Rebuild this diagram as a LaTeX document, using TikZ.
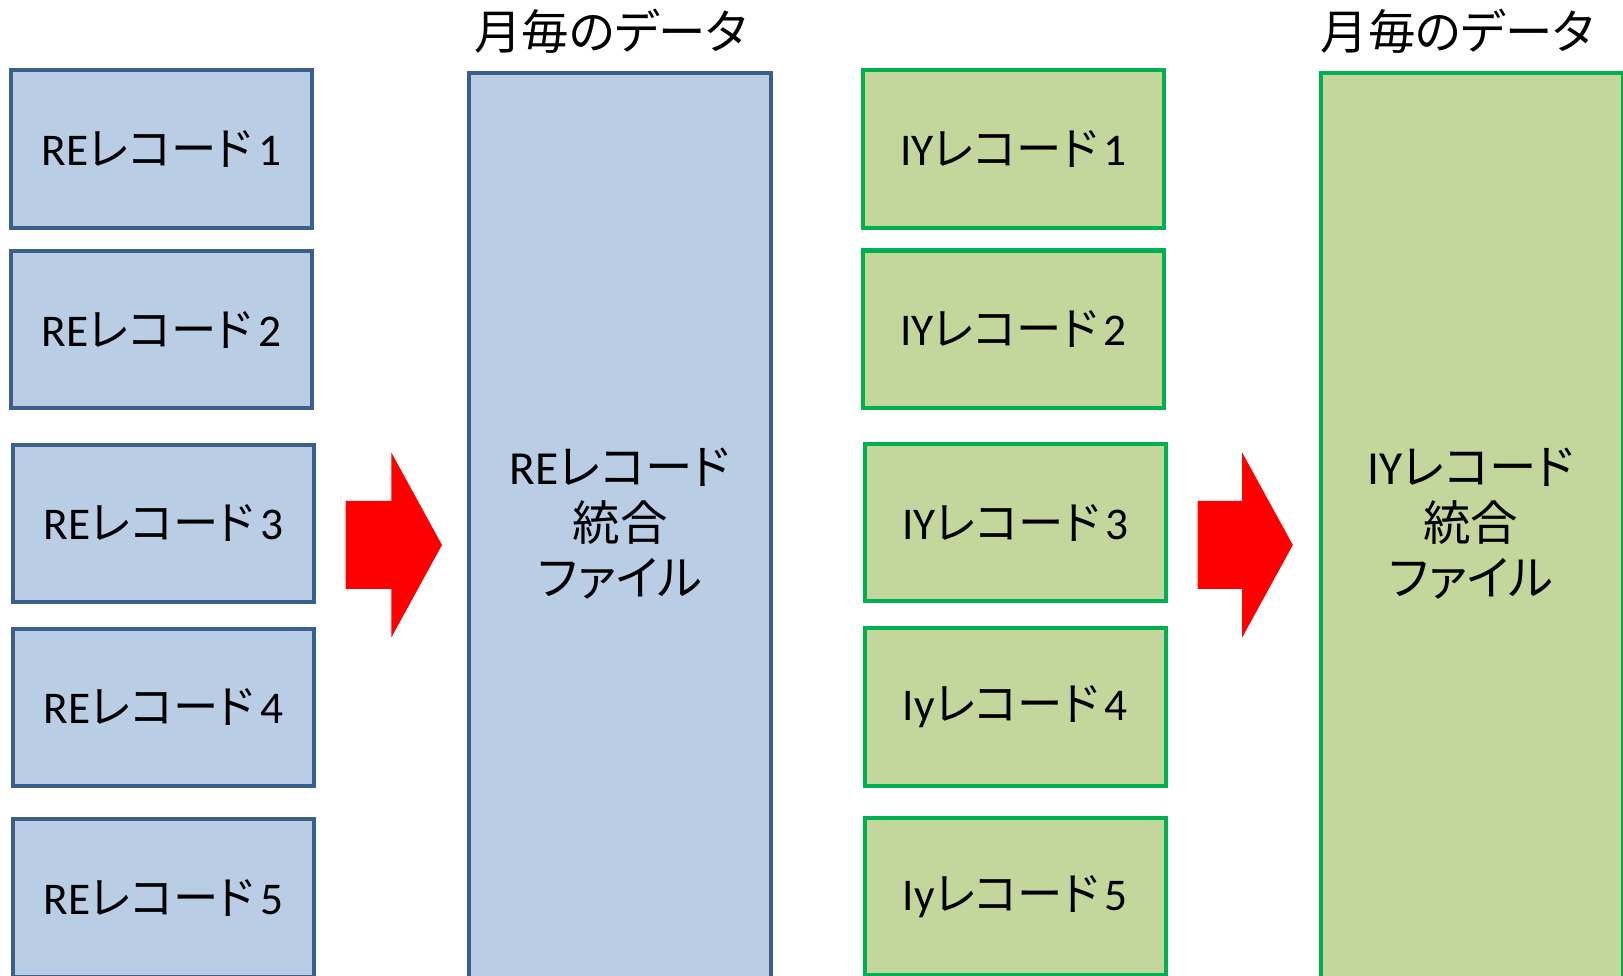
\documentclass[tikz,border=0pt]{standalone}
\usepackage{fontspec}
\setmainfont{Carlito}
\newfontfamily\jpfont[RawFeature=+palt]{Noto Sans CJK JP}
\newcommand\J[1]{{\jpfont #1}}
\newcommand\Rec{\J{レコード}\kern3bp}
\definecolor{reb}{HTML}{3A5F8B}
\definecolor{ref}{HTML}{B9CDE5}
\definecolor{iyb}{HTML}{00B050}
\definecolor{iyf}{HTML}{C3D69B}
\definecolor{arr}{HTML}{FF0000}
\begin{document}
\begin{tikzpicture}[x=0.5bp,y=-0.5bp,
  txt/.style={font=\fontsize{23}{27}\selectfont, text=black, inner sep=0pt, align=center},
  boxtxt/.style={font=\fontsize{22}{27}\selectfont, text=black, inner sep=0pt, align=center},
  rebox/.style={boxtxt, draw=reb, fill=ref, line width=2bp, minimum width=145.5bp, minimum height=76bp},
  iybox/.style={boxtxt, draw=iyb, fill=iyf, line width=2bp, minimum width=145.5bp, minimum height=76bp},
  bigre/.style={draw=reb, fill=ref, line width=2bp, minimum width=145.5bp, minimum height=470bp, inner sep=0pt},
  bigiy/.style={draw=iyb, fill=iyf, line width=2bp, minimum width=146bp, minimum height=470bp, inner sep=0pt},
  blockarrow/.style={fill=arr, draw=none}]
\useasboundingbox (0,0) rectangle (1568,942);
% left group
\node[rebox] (re1) at (156,144) {RE\Rec 1};
\node[rebox] (re2) at (156,318.5) {RE\Rec 2};
\node[rebox] (re3) at (158,505.5) {RE\Rec 3};
\node[rebox] (re4) at (158,683.5) {RE\Rec 4};
\node[rebox] (re5) at (158,867.5) {RE\Rec 5};
\node[bigre, anchor=north] (rebig) at (599,68.5) {};
\node[txt] (retitle) at (590,30) {\J{月毎のデータ}};
\node[txt] (retext) at (599,506) {RE\J{レコード}\\\J{統合}\\\J{ファイル}};
\fill[blockarrow] (334,484) -- (378,484) -- (378,437) -- (427,526.5) -- (378,616) -- (378,569) -- (334,569) -- cycle;
% right group
\node[iybox] (iy1) at (979,144) {IY\Rec 1};
\node[iybox] (iy2) at (979,318) {IY\Rec 2};
\node[iybox] (iy3) at (981,505) {IY\Rec 3};
\node[iybox] (iy4) at (981,683) {Iy\Rec 4};
\node[iybox] (iy5) at (981,866) {Iy\Rec 5};
\node[bigiy, anchor=north] (iybig) at (1422.5,68.5) {};
\node[txt] (iytitle) at (1408,30) {\J{月毎のデータ}};
\node[txt] (iytext) at (1421,506) {IY\J{レコード}\\\J{統合}\\\J{ファイル}};
\fill[blockarrow] (1157,484) -- (1200,484) -- (1200,437) -- (1249,526.5) -- (1200,616) -- (1200,569) -- (1157,569) -- cycle;
\end{tikzpicture}
\end{document}
